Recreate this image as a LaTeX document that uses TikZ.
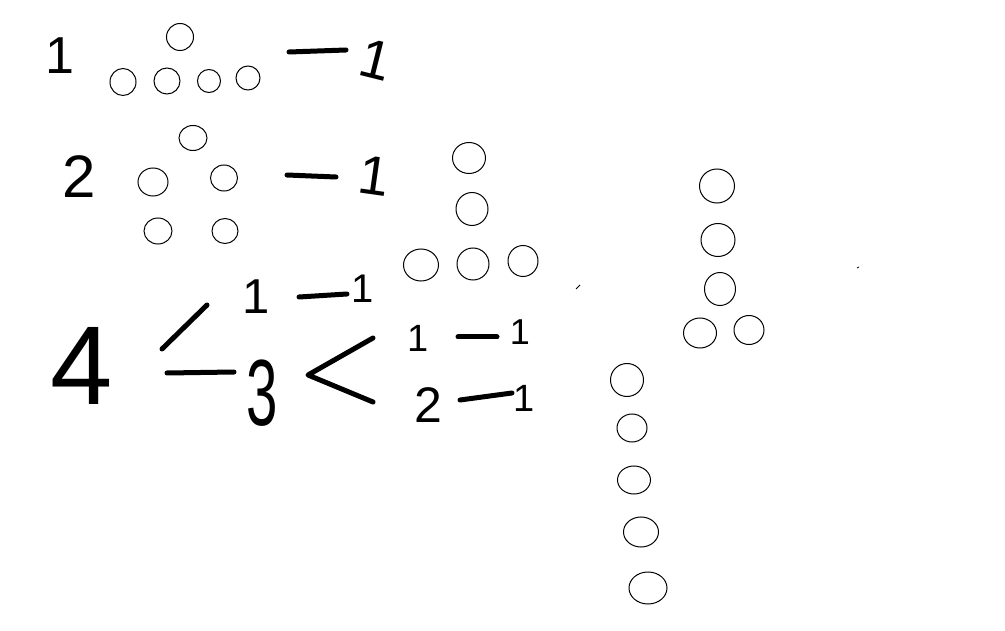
\documentclass[tikz,border=0pt]{standalone}
\usepackage{fontspec}
\setmainfont{Liberation Sans}
\tikzset{
  ball/.style={draw=black, line width=1pt},
  stroke/.style={line width=5pt, line cap=round, line join=round},
  digit/.style={inner sep=0pt, font=\fontsize{#1pt}{#1pt}\selectfont}
}

\begin{document}
\begin{tikzpicture}[x=1pt, y=-1pt]
  \useasboundingbox (0,0) rectangle (1005,631);

  % first row: one ball over four, then -1
  \node[digit=52] (rowA) at (60,56) {1};
  \foreach \x/\y/\rx/\ry in {180/37/13.5/13.5, 123/82/13/13.5, 167/81/13/13, 209/81/11.5/11.5, 248/78/12/12}
    \draw[ball] (\x,\y) ellipse [x radius=\rx, y radius=\ry];
  \coordinate (dashA1) at (289,52);
  \coordinate (dashA2) at (346,50);
  \draw[stroke] (dashA1) -- (dashA2);
  \node[digit=55, rotate=-14] (oneA) at (376,60) {1};

  % second row: five balls, then -1
  \node[digit=60] (rowB) at (79,177) {2};
  \foreach \x/\y/\rx/\ry in {193/138/14/12.5, 153/182/15/14, 224/178/13.5/13, 158/231/14/13, 225/231/13/12.5}
    \draw[ball] (\x,\y) ellipse [x radius=\rx, y radius=\ry];
  \coordinate (dashB1) at (287,175);
  \coordinate (dashB2) at (336,177);
  \draw[stroke] (dashB1) -- (dashB2);
  \node[digit=55, rotate=-8] (oneB) at (374,176) {1};

  % balls of the middle group
  \foreach \x/\y/\rx/\ry in {469/158/16.5/15.5, 472/209/16/16.5, 421/265/17.5/16, 473/264/16/16, 523/261/15/15.5}
    \draw[ball] (\x,\y) ellipse [x radius=\rx, y radius=\ry];
  \draw[line width=0.8pt] (576,289) -- (580,285);

  % balls on the right
  \foreach \x/\y/\rx/\ry in {717/186/17.5/17, 718/240/17/16.5, 720/289/15.5/16.5, 700/333/16.5/15, 749/330/15/14.5}
    \draw[ball] (\x,\y) ellipse [x radius=\rx, y radius=\ry];
  \draw[line width=0.8pt] (857,268) -- (859,267);

  % lower column of balls
  \foreach \x/\y/\rx/\ry in {627/380/16.5/16.5, 632/428/15/14, 634/480/16.5/14, 641/532/17.5/15, 648/588/19/16}
    \draw[ball] (\x,\y) ellipse [x radius=\rx, y radius=\ry];

  % four splits into one and three
  \node[digit=112] (four) at (82,366) {4};
  \coordinate (upA) at (162,349);
  \coordinate (upB) at (207,305);
  \coordinate (lowA) at (167,373);
  \coordinate (lowB) at (234,372);
  \draw[stroke] (upA) -- (upB);
  \draw[stroke] (lowA) -- (lowB);

  \node[digit=49] (oneC) at (256,297) {1};
  \coordinate (dashC1) at (299,297);
  \coordinate (dashC2) at (347,294);
  \draw[stroke] (dashC1) -- (dashC2);
  \node[digit=40] (oneD) at (363,289) {1};

  % three splits into one and two
  \node[digit=94, xscale=0.6] (three) at (262,393) {3};
  \coordinate (forkT) at (373,338);
  \coordinate (forkM) at (308,375);
  \coordinate (forkB) at (373,402);
  \draw[stroke] (forkT) -- (forkM) -- (forkB);

  \node[digit=38] (oneE) at (418,338) {1};
  \coordinate (dashE1) at (458,337);
  \coordinate (dashE2) at (497,337);
  \draw[stroke] (dashE1) -- (dashE2);
  \node[digit=36] (oneF) at (520,332) {1};

  \node[digit=50] (twoG) at (428,405) {2};
  \coordinate (dashG1) at (460,400);
  \coordinate (dashG2) at (512,393);
  \draw[stroke] (dashG1) -- (dashG2);
  \node[digit=38] (oneG) at (524,398) {1};
\end{tikzpicture}
\end{document}
